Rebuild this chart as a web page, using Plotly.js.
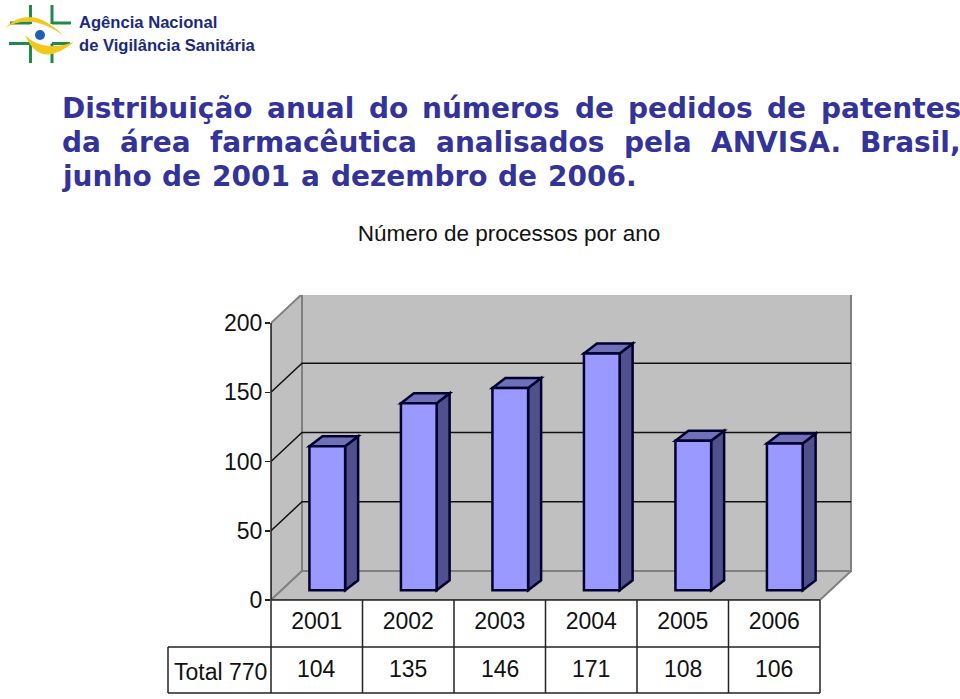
<!DOCTYPE html>
<html>
<head>
<meta charset="utf-8">
<script src="https://cdn.plot.ly/plotly-3.0.1.min.js"></script>
<style>
  html, body { margin: 0; padding: 0; background: #fff; }
  #chart { width: 960px; height: 699px; }
</style>
</head>
<body>
<div id="chart"></div>
<script>
// Chart values
const years = ['2001', '2002', '2003', '2004', '2005', '2006'];
const pedidos = [104, 135, 146, 171, 108, 106];
const totalLabel = 'Total 770';
const yTicks = [0, 50, 100, 150, 200];

// Slide header text
const agencyLines = ['Agência Nacional', 'de Vigilância Sanitária'];
const headingLines = [
    'Distribuição anual do números de pedidos de patentes',
    'da área farmacêutica analisados pela ANVISA. Brasil,',
    'junho de 2001 a dezembro de 2006.'
];
const chartTitle = 'Número de processos por ano';

const W = 960, H = 699;
const CHART_FONT = '"Liberation Sans", Arial, sans-serif';
const HEADING_FONT = '"DejaVu Sans", Verdana, sans-serif';
const CHART_SIZE = 23;

// Plot area in page pixels, everything else is converted from these
const plotL = 271, plotR = 852, plotT = 295, plotB = 600;
const catPx = 91.5;   // width of one category on the front plane
const valPx = 1.385;  // pixels per unit on the value axis

const xLo = -0.5;
const xHi = xLo + (plotR - plotL) / catPx;
const yHi = (plotB - plotT) / valPx;

// 3d look: wall depth and bar depth, in data units
const wallDx = 31 / catPx, wallDy = 29 / valPx;
const barDx = 13 / catPx, barDy = 10 / valPx;
const barBase = 7, barShift = 0.115, barWidth = 0.39;

// table rows below the axis
const row1 = -47 / valPx, row2 = -93 / valPx;
const tableLeft = xLo - 103 / catPx;

// paper coordinates are relative to the plot area, not the page
function px(x) { return (x - plotL) / (plotR - plotL); }
function py(y) { return (plotB - y) / (plotB - plotT); }
function dx(x) { return (x - xLo) / (xHi - xLo); }
function dy(v) { return v / yHi; }

function poly(points) {
    return 'M' + points.map(p => p[0] + ',' + p[1]).join(' L') + ' Z';
}

function dataShape(points, fill, lineColor, lineWidth) {
    return {
        type: 'path', xref: 'x', yref: 'y', layer: 'below', path: poly(points),
        fillcolor: fill, line: { color: lineColor, width: lineWidth }
    };
}

const shapes = [];
const xEnd = xLo + 6;

// left wall, back wall, floor
shapes.push(dataShape([[xLo, 0], [xLo + wallDx, wallDy], [xLo + wallDx, 200 + wallDy], [xLo, 200]], '#c0c0c0', '#808080', 2));
shapes.push(dataShape([[xLo + wallDx, wallDy], [xEnd + wallDx, wallDy], [xEnd + wallDx, 200 + wallDy], [xLo + wallDx, 200 + wallDy]], '#c0c0c0', '#808080', 2));
shapes.push(dataShape([[xLo, 0], [xEnd, 0], [xEnd + wallDx, wallDy], [xLo + wallDx, wallDy]], '#c0c0c0', '#808080', 2));

// gridlines on both walls
yTicks.filter(v => v > 0 && v < 200).forEach(v => {
    shapes.push({
        type: 'path', xref: 'x', yref: 'y', layer: 'below',
        path: 'M' + xLo + ',' + v + ' L' + (xLo + wallDx) + ',' + (v + wallDy) + ' L' + (xEnd + wallDx) + ',' + (v + wallDy),
        line: { color: '#111', width: 1.5 }
    });
});

// side and top faces of the bars
pedidos.forEach((v, i) => {
    const l = i + barShift - barWidth / 2, r = i + barShift + barWidth / 2, top = barBase + v;
    shapes.push(dataShape([[r, barBase], [r + barDx, barBase + barDy], [r + barDx, top + barDy], [r, top]], '#50508c', '#000030', 2.5));
    shapes.push(dataShape([[l, top], [r, top], [r + barDx, top + barDy], [l + barDx, top + barDy]], '#7070b8', '#000030', 2.5));
});

// Logo, drawn in page pixels
function logoLine(x0, y0, x1, y1) {
    return { type: 'line', xref: 'paper', yref: 'paper', x0: px(x0), y0: py(y0), x1: px(x1), y1: py(y1), line: { color: '#1f8a4c', width: 3 } };
}
function logoPath(cmds, fill) {
    const path = cmds.map(c => c[0] + c.slice(1).map((n, k) => k % 2 ? py(n) : px(n)).join(' ')).join(' ');
    return { type: 'path', xref: 'paper', yref: 'paper', path: path + ' Z', fillcolor: fill, line: { width: 0 } };
}
shapes.push(logoLine(30.5, 5, 30.5, 24), logoLine(10, 23, 30.5, 23));
shapes.push(logoLine(52, 5, 52, 24), logoLine(52, 23, 71, 23));
shapes.push(logoLine(9, 43.5, 30.5, 43.5), logoLine(30.5, 43.5, 30.5, 63));
shapes.push(logoLine(52, 43.5, 52, 63), logoLine(52, 43.5, 70, 43.5));
shapes.push(logoPath([['M', 5, 28], ['Q', 30, 3, 63, 35], ['Q', 30, 12, 5, 28]], '#f2c81e'));
shapes.push(logoPath([['M', 25, 35], ['Q', 40, 70, 74, 42], ['Q', 42, 53, 25, 35]], '#f2c81e'));
shapes.push({ type: 'circle', xref: 'paper', yref: 'paper', x0: px(35), y0: py(40), x1: px(45), y1: py(30), fillcolor: '#1f5fb4', line: { width: 0 } });

// Table grid and the axis line, these leave the plot area so they go on paper
function tableLine(x0, y0, x1, y1) {
    shapes.push({
        type: 'line', xref: 'paper', yref: 'paper', layer: 'above',
        x0: dx(x0), y0: dy(y0), x1: dx(x1), y1: dy(y1), line: { color: '#222', width: 1.5 }
    });
}
tableLine(xLo, 0, xEnd, 0);
tableLine(tableLeft, row1, xEnd, row1);
tableLine(tableLeft, row2, xEnd, row2);
tableLine(tableLeft, row1, tableLeft, row2);
years.forEach((y, i) => tableLine(xLo + i, 0, xLo + i, row2));
tableLine(xEnd, 0, xEnd, row2);
tableLine(xLo, 0, xLo, 200);

const traces = [
    {
        type: 'bar', x: years.map((y, i) => i + barShift), y: pedidos, base: barBase, width: barWidth,
        marker: { color: '#9999ff', line: { color: '#000030', width: 2.5 } },
        hoverinfo: 'skip', showlegend: false
    }
];

const annotations = [];
function tableText(text, x, y) {
    annotations.push({
        text: text, x: dx(x), y: dy(y), xref: 'paper', yref: 'paper',
        xanchor: 'center', yanchor: 'middle', showarrow: false,
        font: { family: CHART_FONT, size: CHART_SIZE, color: '#111' }
    });
}
pedidos.forEach((v, i) => tableText(String(v), i, -69 / valPx));
tableText(totalLabel, xLo - 51 / catPx, -72 / valPx);

function pageText(text, x, y, font) {
    annotations.push({
        text: text, x: px(x), y: py(y), xref: 'paper', yref: 'paper',
        xanchor: 'left', yanchor: 'middle', showarrow: false, borderpad: 0, font: font
    });
}

agencyLines.forEach((line, i) => {
    pageText(line, 78, i === 0 ? 22 : 46, { family: CHART_FONT, size: 16.6, color: '#1a2a80', weight: 700 });
});

// Heading is justified between the slide margins, so words are spaced by measuring them
const headFont = { family: HEADING_FONT, size: 28, color: '#333399', weight: 700 };
const ctx = document.createElement('canvas').getContext('2d');
ctx.font = 'bold ' + headFont.size + 'px "DejaVu Sans"';
const headLeft = 61, headRight = 960;
headingLines.forEach((line, i) => {
    const words = line.split(' ');
    const widths = words.map(w => ctx.measureText(w).width);
    const total = widths.reduce((a, b) => a + b, 0);
    const last = i === headingLines.length - 1;
    // last line is not justified, the original font just has a wider space
    const gap = last ? ctx.measureText(' ').width + 1.3 : (headRight - headLeft - total) / (words.length - 1);
    let x = headLeft;
    words.forEach((w, k) => {
        pageText(w, x, 108 + i * 34, headFont);
        x += widths[k] + gap;
    });
});

const layout = {
    width: W, height: H, autosize: false,
    margin: { l: plotL, r: W - plotR, t: plotT, b: H - plotB, pad: 0 },
    paper_bgcolor: '#fff', plot_bgcolor: '#fff', showlegend: false,
    title: {
        text: chartTitle, x: 509 / W, xanchor: 'center', xref: 'container',
        y: 1 - 233 / H, yanchor: 'middle', yref: 'container',
        font: { family: CHART_FONT, size: 22.5, color: '#111' }
    },
    xaxis: {
        range: [xLo, xHi], tickmode: 'array', tickvals: years.map((y, i) => i), ticktext: years,
        showgrid: false, zeroline: false, showline: false, ticks: '',
        ticklabelstandoff: 5, tickfont: { family: CHART_FONT, size: CHART_SIZE, color: '#111' }, fixedrange: true
    },
    yaxis: {
        range: [0, yHi], tickmode: 'array', tickvals: yTicks, ticktext: yTicks.map(String),
        showgrid: false, zeroline: false, showline: false, ticks: 'outside', ticklen: 5, tickwidth: 1.5, tickcolor: '#222',
        ticklabelstandoff: -2, tickfont: { family: CHART_FONT, size: CHART_SIZE, color: '#111' }, fixedrange: true
    },
    bargap: 0,
    shapes: shapes,
    annotations: annotations
};

Plotly.newPlot('chart', traces, layout, { displayModeBar: false, staticPlot: true });
</script>
</body>
</html>
